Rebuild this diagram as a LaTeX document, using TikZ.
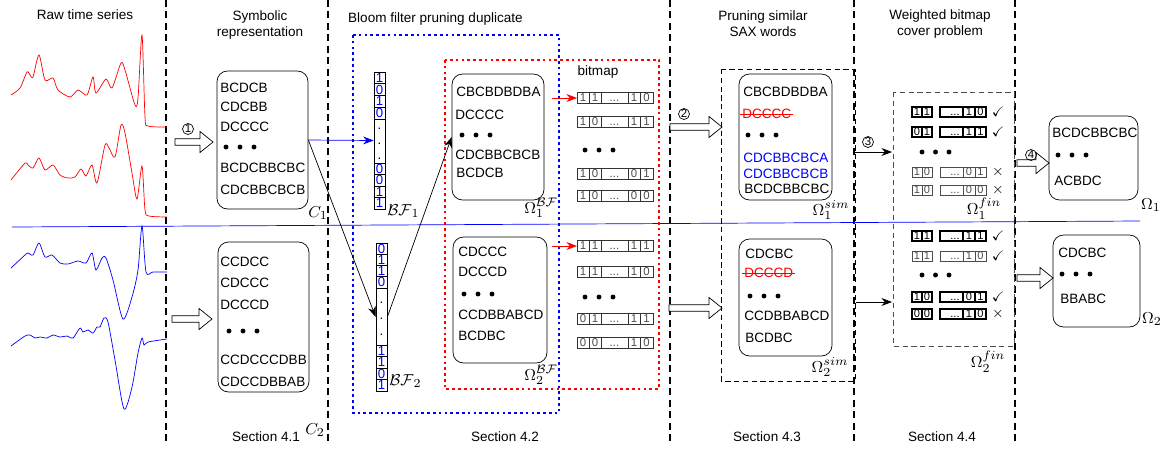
\documentclass[tikz,border=0pt]{standalone}
\usepackage[no-math]{fontspec}
\usepackage{amssymb}
\setmainfont{Liberation Sans}
\usetikzlibrary{arrows.meta, fit}

% hollow arrow: x from, x to, y
\newcommand{\fatarrow}[3]{%
	\draw[fill=white] (#1,#3-3.2) -- (#2-13,#3-3.2) -- (#2-13,#3-10.5) -- (#2,#3) -- (#2-13,#3+10.5) -- (#2-13,#3+3.2) -- (#1,#3+3.2) -- cycle;}
% bitmap row: name, y, bits
\newcommand{\bitrow}[6]{%
	\coordinate (#1) at (577,#2);
	\draw[cell] (577,#2-5.5) rectangle node {#3} (589,#2+5.5) rectangle node {#4} (601,#2-5.5)
		rectangle node[yshift=-1.5pt] {...} (628,#2+5.5) rectangle node {#5} (640,#2-5.5) rectangle node {#6} (653,#2+5.5);}
% weighted row: y, bits, style, mark
\newcommand{\wrow}[7]{%
	\draw[#6] (912,#1-5) rectangle node {#2} (922,#1+5) rectangle node {#3} (932,#1-5)
		(940,#1-5) rectangle node[xshift=2pt, yshift=-1.5pt] {...} (963,#1+5) rectangle node {#4} (975,#1-5) rectangle node {#5} (986,#1+5);
	\node at (998,#1) {#7};}

\begin{document}
\begin{tikzpicture}[x=0.02cm, y=-0.02cm, font=\fontsize{7.7}{9.2}\selectfont,
	word/.style={anchor=west, inner sep=0pt},
	wordbox/.style={draw, rounded corners=6pt, inner sep=0pt},
	sep/.style={line width=1.3pt, dash pattern=on 4pt off 2.5pt},
	bit/.style={inner sep=0pt, font=\fontsize{7.5}{7.5}\selectfont, text=blue},
	cell/.style={draw=black!80, inner sep=0pt, font=\fontsize{6.5}{7}\selectfont, text=black!70},
	bold/.style={line width=1.4pt, inner sep=0pt, font=\fontsize{6.3}{7}\selectfont},
	light/.style={draw=black!70, inner sep=0pt, font=\fontsize{6.3}{7}\selectfont, text=black!70},
	lbl/.style={inner sep=0pt, font=\fontsize{9.5}{10}\selectfont},
	circ/.style={draw, circle, thin, inner sep=0pt, minimum size=0.22cm, font=\fontsize{6.5}{6.5}\selectfont},
	dotbox/.style={line width=0.6pt, dash pattern=on 1.5pt off 1.8pt},
	tip/.style={-{Stealth[length=6pt, width=4.5pt]}}]
		\useasboundingbox (0,0) rectangle (1166,454);

		% separators
		\foreach \x in {166,328,670,854,1015} \draw[sep] (\x,0) -- (\x,445);
		\draw[blue] (12,227) -- (1140,221);

		% titles
		\node at (85,15) {Raw time series};
		\node[align=center] at (260,25) {Symbolic\\representation};
		\node[anchor=west] at (342,19) {Bloom filter pruning duplicate};
		\node[align=center] at (763,24) {Pruning similar\\SAX words};
		\node[align=center] at (940,24) {Weighted bitmap\\cover problem};
		\foreach \x/\s in {266/1, 505/2, 767/3, 942/4} \node at (\x,437) {Section 4.\s};

		% raw time series
		\draw[red] plot[smooth, tension=0.45] coordinates {(11,95) (20,88) (27,72) (30,75) (33,77) (39,55) (45,80) (53,78) (58,90) (70,97) (78,90) (87,95) (93,77) (96,93) (106,79) (112,88) (121,63) (125,70) (135,105) (138,98) (142,35) (145,117) (148,126) (167,127)};
		\draw[red] plot[smooth, tension=0.45] coordinates {(11,180) (25,163) (28,165) (33,168) (39,158) (45,170) (53,165) (60,175) (68,178) (75,177) (81,169) (86,176) (92,165) (97,183) (105,145) (109,148) (115,157) (121,125) (125,133) (132,173) (137,199) (142,166) (145,210) (149,216) (167,217)};
		\draw[blue] plot[smooth, tension=0.45] coordinates {(11,268) (25,255) (28,253) (33,255) (39,243) (45,257) (52,255) (60,263) (68,264) (78,261) (86,263) (92,253) (96,270) (102,258) (106,258) (113,280) (123,319) (132,297) (138,270) (142,226) (146,272) (153,272) (167,272)};
		\draw[blue] plot[smooth, tension=0.45] coordinates {(11,346) (25,336) (30,335) (35,338) (40,337) (47,338) (53,335) (60,337) (67,336) (73,338) (80,328) (83,332) (88,330) (93,333) (97,327) (100,327) (104,318) (108,322) (115,360) (124,409) (132,387) (138,353) (142,338) (144,345) (148,342) (167,339)};

		% symbolic representation
		\node[wordbox, fit={(217,71) (308,209)}] (c1) {};
		\foreach \w/\y in {BCDCB/88, CDCBB/107, DCCCC/127, BCDCBBCBC/168, CDCBBCBCB/190} \node[word] at (220,\y) {\w};
		\foreach \k in {0,1,2} \fill (226+\k*14,147) circle (1.4pt);
		\node[lbl] at (318,213) {$C_1$};
		\node[wordbox, fit={(218,242) (309,392)}] (c2) {};
		\foreach \w/\y in {CCDCC/262, CDCCC/283, DCCCD/305, CCDCCCDBB/360, CDCCDBBAB/382} \node[word] at (220,\y) {\w};
		\foreach \k in {0,1,2} \fill (229+\k*14,331) circle (1.4pt);
		\node[lbl] at (315,430) {$C_2$};
		\fatarrow{175}{213}{142}
		\node[circ] at (188,129) {1};
		\fatarrow{172}{212}{319}

		% bloom filters
		\draw[blue, dotbox] (353,35) rectangle (559,413);
		\draw[red, dotbox] (445,60) rectangle (659,389);
		\foreach \d [count=\k from 0] in {1,0,1,0} \draw (374,72+11.75*\k) rectangle node[bit] {\d} ++(11,11.75);
		\draw (374,119) rectangle (385,163);
		\foreach \y in {129,144,159} \node[bit, text=black] at (379.5,\y) {.};
		\foreach \d [count=\k from 0] in {0,0,1,1} \draw (374,163+11.5*\k) rectangle node[bit] {\d} ++(11,11.5);
		\node[fit={(374,72) (385,209)}, inner sep=0pt] (bf1) {};
		\node[lbl, anchor=west] at (387,211) {$\mathcal{BF}_1$};
		\foreach \d [count=\k from 0] in {0,1,1,0} \draw (376,243+11.25*\k) rectangle node[bit] {\d} ++(11,11.25);
		\draw (376,288) rectangle (387,345);
		\foreach \y in {303,319,335} \node[bit, text=black] at (381.5,\y) {.};
		\foreach \d [count=\k from 0] in {1,1,0,1} \draw (376,345+11.5*\k) rectangle node[bit] {\d} ++(11,11.5);
		\node[fit={(376,243) (387,391)}, inner sep=0pt] (bf2) {};
		\node[lbl, anchor=west] at (389,381) {$\mathcal{BF}_2$};

		\node[wordbox, fit={(452,74) (544,200)}] (o1bf) {};
		\node[word] at (456,92) {CBCBDBDBA};
		\node[word] at (455,115) {DCCCC};
		\node[word] at (455,155) {CDCBBCBCB};
		\node[word] at (456,173) {BCDCB};
		\foreach \k in {0,1,2} \fill (462+\k*14,135) circle (1.4pt);
		\node[lbl] at (541,208) {$\Omega_1^{\mathcal{BF}}$};
		\node[wordbox, fit={(453,237) (547,363)}] (o2bf) {};
		\foreach \w/\y in {CDCCC/252, DCCCD/272, CCDBBABCD/315, BCDBC/336} \node[word] at (458,\y) {\w};
		\foreach \k in {0,1,2} \fill (464+\k*14,294) circle (1.4pt);
		\node[lbl] at (541,375) {$\Omega_2^{\mathcal{BF}}$};

		\draw[blue, tip] (c1.east) -- (bf1.west);
		\draw[tip] (c1.east) -- (bf2.west);
		\draw[tip] (bf2.east) -- (o1bf.west);

		% bitmaps
		\node at (598,72) {bitmap};
		\bitrow{t1}{98}{1}{1}{1}{0}
		\bitrow{t2}{122}{1}{0}{1}{1}
		\foreach \k in {0,1,2} \fill (585+\k*14,150) circle (1.4pt);
		\bitrow{t3}{174}{1}{0}{0}{1}
		\bitrow{t4}{196}{1}{0}{0}{0}
		\bitrow{b1}{246}{1}{1}{1}{1}
		\bitrow{b2}{272}{1}{1}{1}{0}
		\foreach \k in {0,1,2} \fill (585+\k*14,297) circle (1.4pt);
		\bitrow{b3}{319}{0}{1}{1}{1}
		\bitrow{b4}{343}{0}{0}{1}{0}
		\draw[red, tip] ([xshift=0.16cm]o1bf.east |- t1) -- (t1);
		\draw[red, tip] ([xshift=0.1cm]o2bf.east |- b1) -- (b1);

		% pruning similar SAX words
		\fatarrow{670}{722}{127}
		\node[circ] at (684,114) {2};
		\fatarrow{669}{722}{308}
		\draw[dash pattern=on 3pt off 2pt] (721,69) rectangle (855,381);
		\node[wordbox, fit={(739,74) (832,200)}] (o1s) {};
		\node[word] at (743,92) {CBCBDBDBA};
		\node[word, red] (x1) at (742,114) {DCCCC};
		\draw[red] ([xshift=-1pt]x1.west) -- ([xshift=1pt]x1.east);
		\foreach \k in {0,1,2} \fill (748+\k*14,135) circle (1.4pt);
		\node[word, blue] at (743,158) {CDCBBCBCA};
		\node[word, blue] at (743,174) {CDCBBCBCB};
		\node[word] at (744,189) {BCDCBBCBC};
		\node[lbl] at (831,210) {$\Omega_1^{sim}$};
		\node[wordbox, fit={(739,239) (832,356)}] (o2s) {};
		\node[word] at (745,254) {CDCBC};
		\node[word, red] (x2) at (744,273) {DCCCD};
		\draw[red] ([xshift=-1pt]x2.west) -- ([xshift=1pt]x2.east);
		\foreach \k in {0,1,2} \fill (750+\k*14,296) circle (1.4pt);
		\node[word] at (744,316) {CCDBBABCD};
		\node[word] at (745,338) {BCDBC};
		\node[lbl] at (830,367) {$\Omega_2^{sim}$};

		% weighted bitmap cover
		\coordinate (w1) at (892,152);
		\coordinate (w2) at (892,302);
		\draw[tip] (855,152) -- (w1);
		\node[circ] at (868,142) {3};
		\draw[tip] (856,302) -- (w2);
		\draw[black!70, dash pattern=on 3pt off 2pt] (893,92) rectangle (1014,346);
		\wrow{112}{1}{1}{1}{0}{bold}{$\checkmark$}
		\wrow{132}{0}{1}{1}{1}{bold}{$\checkmark$}
		\foreach \k in {0,1,2} \fill (922+\k*13.5,152) circle (1.4pt);
		\wrow{172}{1}{0}{0}{1}{light}{$\times$}
		\wrow{190}{1}{0}{0}{0}{light}{$\times$}
		\node[lbl] at (984,209) {$\Omega_1^{fin}$};
		\wrow{236}{1}{1}{1}{1}{bold}{$\checkmark$}
		\wrow{256}{1}{1}{1}{0}{light}{$\checkmark$}
		\foreach \k in {0,1,2} \fill (922+\k*13.5,275) circle (1.4pt);
		\wrow{297}{1}{0}{0}{1}{bold}{$\checkmark$}
		\wrow{314}{0}{0}{1}{0}{bold}{$\times$}
		\node[lbl] at (988,362) {$\Omega_2^{fin}$};

		% final sets
		\fatarrow{1017}{1049}{163}
		\node[circ] at (1031,155) {4};
		\fatarrow{1017}{1053}{278}
		\node[wordbox, fit={(1049,116) (1138,200)}] (o1) {};
		\node[word] at (1052,133) {BCDCBBCBC};
		\foreach \k in {0,1,2} \fill (1058+\k*14,155) circle (1.4pt);
		\node[word] at (1054,181) {ACBDC};
		\node[lbl] at (1151,205) {$\Omega_1$};
		\node[wordbox, fit={(1053,235) (1140,327)}] (o2) {};
		\node[word] at (1058,253) {CDCBC};
		\foreach \k in {0,1,2} \fill (1062+\k*14,274) circle (1.4pt);
		\node[word] at (1060,299) {BBABC};
		\node[lbl] at (1152,319) {$\Omega_2$};
\end{tikzpicture}
\end{document}
